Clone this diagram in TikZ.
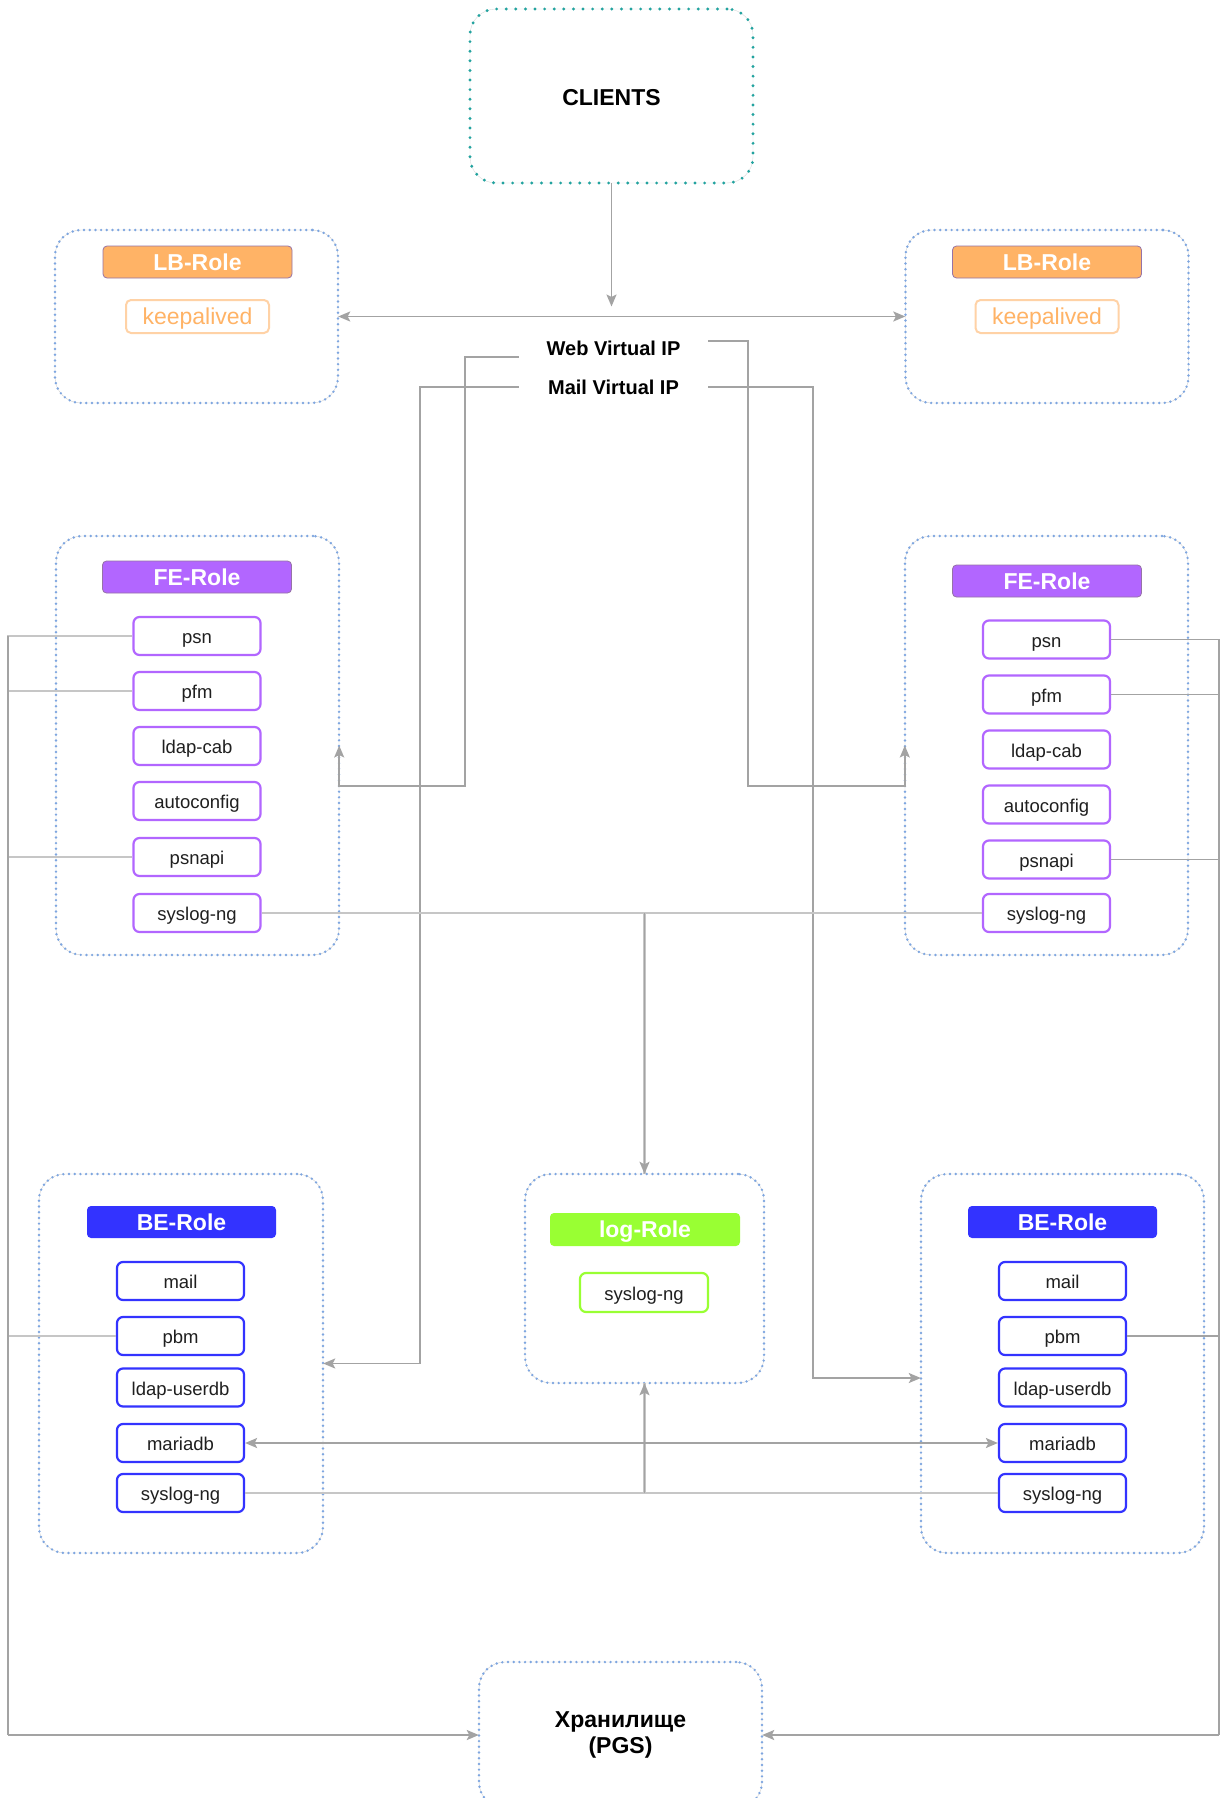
\documentclass[tikz,border=0pt]{standalone}
\usepackage{fontspec}
\setmainfont{Liberation Sans}
\usetikzlibrary{arrows.meta,calc}
\definecolor{tealdot}{HTML}{22A39F}
\definecolor{dotblue}{HTML}{7EA6E0}
\definecolor{lborange}{HTML}{FFB366}
\definecolor{kaborder}{HTML}{FFD2A6}
\definecolor{tagborder}{HTML}{9673A6}
\definecolor{fepurple}{HTML}{B266FF}
\definecolor{beblue}{HTML}{3333FF}
\definecolor{loggreen}{HTML}{99FF33}
\definecolor{cgray}{HTML}{A3A3A3}
\definecolor{clight}{HTML}{C6C6C6}
\begin{document}
\begin{tikzpicture}[x=1pt,y=-1pt,
  cont/.style={draw=black!18, line width=0.4pt, rounded corners=26pt, inner sep=0pt,
    postaction={draw=dotblue, line width=2.7pt, line cap=round, dash pattern=on 0pt off 5.7pt}},
  clientbox/.style={draw=black!15, line width=0.4pt, rounded corners=26pt, inner sep=0pt,
    postaction={draw=tealdot, line width=3.2pt, line cap=round, dash pattern=on 0pt off 9.6pt},
    font=\bfseries\fontsize{23}{26}\selectfont, text height=19.5pt, text depth=0pt},
  roletag/.style={rounded corners=4pt, text=white, font=\bfseries\fontsize{23}{26}\selectfont,
    minimum width=189pt, minimum height=32pt, inner sep=0pt, text height=16pt, text depth=0pt},
  item/.style={draw=#1, line width=2.2pt, rounded corners=6pt, fill=white, minimum width=127pt,
    minimum height=38pt, inner sep=0pt, font=\fontsize{18.5}{21}\selectfont, text=black!88,
    text height=15.5pt, text depth=0pt},
  vip/.style={font=\bfseries\fontsize{20}{23}\selectfont, minimum width=189pt, inner sep=0pt,
    text height=14.3pt, text depth=0pt},
  conn/.style={draw=cgray, line width=1.6pt},
  lconn/.style={draw=clight, line width=2.2pt},
  tip/.style={-{Stealth[length=12pt,width=10pt,inset=2.5pt]}},
  tips/.style={{Stealth[length=12pt,width=10pt,inset=2.5pt]}-{Stealth[length=12pt,width=10pt,inset=2.5pt]}}
]
\useasboundingbox (0,0) rectangle (1221,1798);
\clip (0,0) rectangle (1221,1798);
\fill[white] (0,0) rectangle (1221,1798);

% ---------- containers ----------
\node[clientbox, minimum width=283pt, minimum height=174pt] (clients) at (611.5,96) {CLIENTS};
\node[cont, minimum width=283pt, minimum height=173pt] (lbl) at (196.5,316.5) {};
\node[cont, minimum width=283pt, minimum height=173pt] (lbr) at (1047,316.5) {};
\node[cont, minimum width=283pt, minimum height=419pt] (fel) at (197.5,745.5) {};
\node[cont, minimum width=283pt, minimum height=419pt] (fer) at (1046.5,745.5) {};
\node[cont, minimum width=284pt, minimum height=379pt] (bel) at (181,1363.5) {};
\node[cont, minimum width=283pt, minimum height=379pt] (ber) at (1062.5,1363.5) {};
\node[cont, minimum width=239pt, minimum height=209pt] (log) at (644.5,1278.5) {};
\node[cont, minimum width=283pt, minimum height=146pt, align=center,
  font=\bfseries\fontsize{23}{26}\selectfont] (store) at (620.5,1735) {Хранилище\\(PGS)};

% ---------- LB ----------
\node[roletag, fill=lborange, draw=tagborder, line width=0.8pt] (lbtagl) at (197.5,262) {LB-Role};
\node[roletag, fill=lborange, draw=tagborder, line width=0.8pt] (lbtagr) at (1047,262) {LB-Role};
\node[draw=kaborder, line width=2pt, rounded corners=5pt, minimum width=143pt, minimum height=33pt,
  inner sep=0pt, text=lborange, font=\fontsize{23}{26}\selectfont, text height=16.5pt, text depth=0pt]
  (kal) at (197.5,316.5) {keepalived};
\node[draw=kaborder, line width=2pt, rounded corners=5pt, minimum width=143pt, minimum height=33pt,
  inner sep=0pt, text=lborange, font=\fontsize{23}{26}\selectfont, text height=16.5pt, text depth=0pt]
  (kar) at (1047,316.5) {keepalived};

% ---------- virtual IPs ----------
\node[vip] (web) at (613.5,348) {Web Virtual IP};
\node[vip] (mail) at (613.5,387) {Mail Virtual IP};

% ---------- FE ----------
\node[roletag, fill=fepurple, draw=tagborder, line width=0.8pt] (fetagl) at (197,577) {FE-Role};
\node[roletag, fill=fepurple, draw=tagborder, line width=0.8pt] (fetagr) at (1047,581) {FE-Role};
\node[item=fepurple] (fl-psn) at (197,636) {psn};
\node[item=fepurple] (fl-pfm) at (197,691) {pfm};
\node[item=fepurple] (fl-ldap) at (197,746) {ldap-cab};
\node[item=fepurple] (fl-auto) at (197,801) {autoconfig};
\node[item=fepurple] (fl-psnapi) at (197,857) {psnapi};
\node[item=fepurple] (fl-sys) at (197,913) {syslog-ng};
\node[item=fepurple] (fr-psn) at (1046.5,639.5) {psn};
\node[item=fepurple] (fr-pfm) at (1046.5,694.5) {pfm};
\node[item=fepurple] (fr-ldap) at (1046.5,749.5) {ldap-cab};
\node[item=fepurple] (fr-auto) at (1046.5,804.5) {autoconfig};
\node[item=fepurple] (fr-psnapi) at (1046.5,859.5) {psnapi};
\node[item=fepurple] (fr-sys) at (1046.5,913) {syslog-ng};

% ---------- BE ----------
\node[roletag, fill=beblue] (betagl) at (181.5,1222) {BE-Role};
\node[roletag, fill=beblue] (betagr) at (1062.5,1222) {BE-Role};
\begin{scope}[every node/.append style={text height=14.6pt}]
\node[item=beblue] (bl-mail) at (180.5,1281) {mail};
\node[item=beblue] (bl-pbm) at (180.5,1336) {pbm};
\node[item=beblue] (bl-ldap) at (180.5,1387.5) {ldap-userdb};
\node[item=beblue] (bl-maria) at (180.5,1443) {mariadb};
\node[item=beblue] (bl-sys) at (180.5,1493) {syslog-ng};
\node[item=beblue] (br-mail) at (1062.5,1281) {mail};
\node[item=beblue] (br-pbm) at (1062.5,1336) {pbm};
\node[item=beblue] (br-ldap) at (1062.5,1387.5) {ldap-userdb};
\node[item=beblue] (br-maria) at (1062.5,1443) {mariadb};
\node[item=beblue] (br-sys) at (1062.5,1493) {syslog-ng};
\end{scope}

% ---------- log ----------
\node[roletag, fill=loggreen, minimum width=190pt, minimum height=33pt] (logtag) at (645,1229.5) {log-Role};
\node[item=loggreen, minimum width=128pt, minimum height=39pt, text height=15pt] (log-sys) at (644,1292.5) {syslog-ng};

% ---------- helper coordinates ----------
\coordinate (lx) at (8,0);
\coordinate (rx) at (1219,0);

% ---------- connectors ----------
\draw[conn, tip] (clients.south) -- ($(clients.south |- lbl.east)+(0,-10)$);
\draw[conn, tips] (lbl.east) -- (lbr.west);

\draw[conn, tip] ([yshift=-9pt]web.west) -| (465,786) -| (fel.east);
\draw[conn, tip] ([yshift=7pt]web.east) -| (748,786) -| (fer.west);
\draw[conn, tip] (mail.west) -| (420,1363.5) -- (bel.east);
\draw[conn, tip] (mail.east) -| (813,1378) -- ([yshift=-14.5pt]ber.west);

\draw[lconn] (fl-sys.east) -| (log.north);
\draw[lconn] (fr-sys.west) -| (log.north);
\draw[conn, tip] (fl-sys.east -| log.north) -- (log.north);
\draw[lconn] (bl-sys.east) -| (log.south);
\draw[lconn] (br-sys.west) -| (log.south);
\draw[conn, tip] (bl-sys.east -| log.south) -- (log.south);

\draw[conn, tips] (bl-maria.east) -- (br-maria.west);

\foreach \n in {fl-psn, fl-pfm, fl-psnapi, bl-pbm}{
  \draw[lconn] (\n.west) -- (\n.west -| lx) -- (store.west -| lx);
}
\draw[conn, line width=2pt, tip] (store.west -| lx) -- (store.west);
\draw[conn, line width=2pt] (fl-psn.west -| lx) -- (store.west -| lx);
\foreach \n in {fr-psn, fr-pfm, fr-psnapi, br-pbm}{
  \draw[conn] (\n.east) -- (\n.east -| rx) -- (store.east -| rx);
}
\draw[conn, line width=2pt, tip] (store.east -| rx) -- (store.east);
\end{tikzpicture}
\end{document}
